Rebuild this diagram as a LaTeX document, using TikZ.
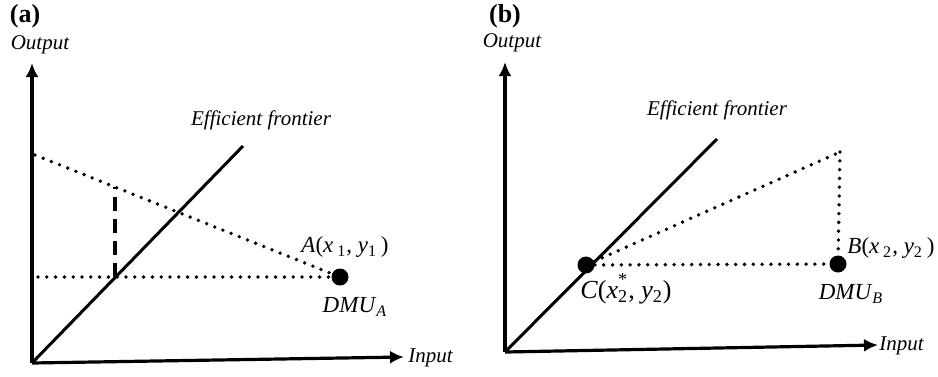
\documentclass[tikz,border=0pt]{standalone}
\usepackage{fontspec}
\setmainfont{Liberation Serif}
\usetikzlibrary{arrows.meta}
\begin{document}
\begin{tikzpicture}[x=0.5pt,y=-0.5pt,
  axis/.style={line width=1.6pt,-{Latex[length=7pt,width=6.5pt]}},
  frontier/.style={line width=1.5pt},
  dotline/.style={line width=1.9pt,dash pattern=on 0pt off 4.4pt,line cap=round},
  dashline/.style={line width=1.6pt,dash pattern=on 7pt off 4pt},
  dot/.style={circle,fill=black,inner sep=0pt,minimum size=8.5pt},
  lbl/.style={font=\itshape\fontsize{10.5}{12}\selectfont,inner sep=0pt},
  ptlbl/.style={font=\fontsize{11.5}{13}\selectfont,inner sep=0pt},
  panellbl/.style={font=\bfseries\fontsize{13}{15}\selectfont,inner sep=0pt}]
\useasboundingbox (0,0) rectangle (938,376);
% ---------- panel (a)
\node[panellbl] (la) at (25,16) {(a)};
\node[lbl] (outa) at (40,45) {Output};
\coordinate (Oa) at (32,363);
\coordinate (Ya) at (32,63);
\coordinate (Xa) at (404,357);
\draw[axis] (Oa) -- (Ya);
\draw[axis] (Oa) -- (Xa);
\node[lbl,anchor=west] (ina) at (408,358) {Input};
\coordinate (Fa) at (243,146);
\draw[frontier] (Oa) -- (Fa);
\node[lbl] (efa) at (261,120) {Efficient frontier};
\node[dot] (A) at (340,277) {};
\coordinate (Sa) at (35,155);
\coordinate (Ha) at (38,277);
\draw[dotline] (Sa) -- (A);
\draw[dotline] (Ha) -- (A);
\coordinate (Pa) at (115,277);
\coordinate (Qa) at (115,187);
\draw[dashline] (Pa) -- (Qa);
\node[ptlbl] (lA) at (345,247) {\textit{A}(\textit{x}\,\textsubscript{1}, \textit{y}\textsubscript{1}\,)};
\node[ptlbl] (dA) at (355,307) {\textit{DMU}\textsubscript{\textit{A}}};
% ---------- panel (b)
\node[panellbl] (lb) at (505,16) {(b)};
\node[lbl] (outb) at (512,43) {Output};
\coordinate (Ob) at (505,352);
\coordinate (Yb) at (505,62);
\coordinate (Xb) at (878,345);
\draw[axis] (Ob) -- (Yb);
\draw[axis] (Ob) -- (Xb);
\node[lbl,anchor=west] (inb) at (879,346) {Input};
\coordinate (Fb) at (717,139);
\draw[frontier] (Ob) -- (Fb);
\node[lbl] (efb) at (717,110) {Efficient frontier};
\node[dot] (C) at (586,265) {};
\node[dot] (B) at (838,264) {};
\coordinate (K) at (840,152);
\draw[dotline] (C) -- (B);
\draw[dotline] (C) -- (K);
\draw[dotline] (K) -- (B);
\node[ptlbl] (lB) at (891,248) {\textit{B}(\textit{x}\,\textsubscript{2}, \textit{y}\textsubscript{2}\,)};
\node[ptlbl] (dB) at (851,294) {\textit{DMU}\textsubscript{\textit{B}}};
\node[ptlbl,font=\fontsize{13}{15}\selectfont] (lC) at (626,289) {\textit{C}(\textit{x}\rlap{\raisebox{0.35ex}{\textsuperscript{*}}}\textsubscript{2}, \textit{y}\textsubscript{2})};
\end{tikzpicture}
\end{document}
